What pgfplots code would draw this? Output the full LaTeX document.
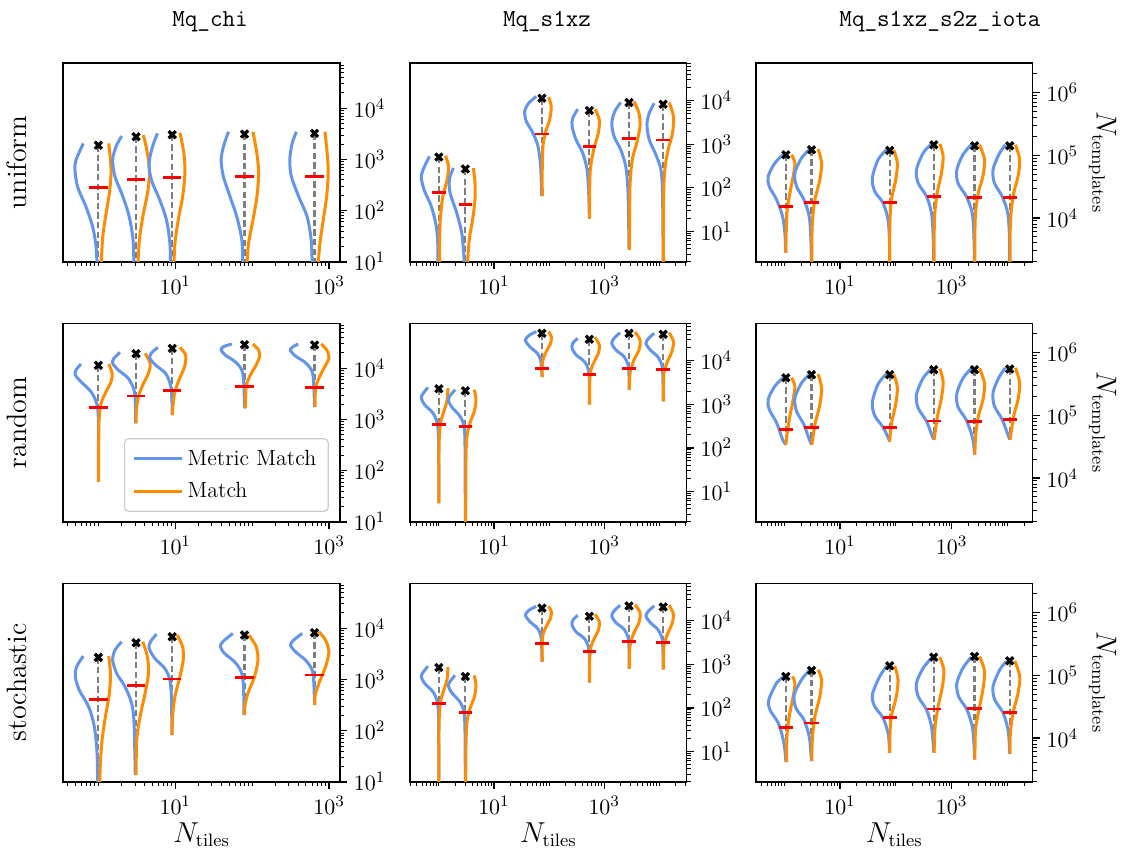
\documentclass[border=0pt]{standalone}
\usepackage{pgfplots}
\pgfplotsset{compat=1.18}
\definecolor{mblue}{HTML}{6495ED}
\definecolor{morange}{HTML}{FF8C00}
\definecolor{dgray}{HTML}{7F7F7F}

% axes are in log10 units: x = log10(N_tiles), y = log10(N_templates)
\pgfplotsset{
  panel/.style={
    scale only axis, width=138.3pt, height=99.25pt, anchor=north west,
    axis line style={line width=0.8pt},
    tick align=outside, xtick pos=bottom, ytick pos=right, yticklabel pos=right,
    major tick length=3.5pt, minor tick length=2pt,
    major tick style={line width=0.7pt, black},
    minor tick style={line width=0.5pt, black},
    xtick={-1,1,3,5},
    minor xtick={-0.699,-0.523,-0.398,-0.301,-0.222,-0.155,-0.097,-0.046,0,0.301,0.477,0.602,0.699,0.778,0.845,0.903,0.954,1.301,1.477,1.602,1.699,1.778,1.845,1.903,1.954,2,2.301,2.477,2.602,2.699,2.778,2.845,2.903,2.954,3.301,3.477,3.602,3.699,3.778,3.845,3.903,3.954,4,4.301,4.477,4.602,4.699,4.778,4.845,4.903,4.954},
    minor ytick={0.301,0.477,0.602,0.699,0.778,0.845,0.903,0.954,1.301,1.477,1.602,1.699,1.778,1.845,1.903,1.954,2.301,2.477,2.602,2.699,2.778,2.845,2.903,2.954,3.301,3.477,3.602,3.699,3.778,3.845,3.903,3.954,4.301,4.477,4.602,4.699,4.778,4.845,4.903,4.954,5.301,5.477,5.602,5.699,5.778,5.845,5.903,5.954,6.301,6.477,6.602,6.699,6.778,6.845,6.903,6.954},
    xticklabel={$10^{\pgfmathprintnumber{\tick}}$},
    yticklabel={$10^{\pgfmathprintnumber{\tick}}$},
    tick label style={font=\fontsize{11}{13}\selectfont},
  },
  c1/.style={panel, xmin=-0.456, xmax=3.14, ymin=1, ymax=4.88, ytick={1,2,3,4}},
  c2/.style={panel, xmin=-0.524, xmax=4.495, ymin=0.30, ymax=4.86, ytick={1,2,3,4}},
  c3/.style={panel, xmin=-0.505, xmax=4.45, ymin=3.30, ymax=6.47, ytick={4,5,6}},
  mm/.style={color=mblue, line width=1.5pt, smooth, mark=none},
  ma/.style={color=morange, line width=1.5pt, smooth, mark=none},
  dsh/.style={color=dgray, line width=1.1pt, dash pattern=on 3.2pt off 1.6pt, mark=none},
  rd/.style={only marks, mark=-, mark size=#1, color=red, mark options={line width=1.4pt}},
  xm/.style={only marks, mark=x, mark size=2.5pt, color=black, mark options={line width=1.6pt}},
}

\begin{document}
\begin{tikzpicture}
\path[use as bounding box] (-31.65pt,31.65pt) rectangle (529.85pt,-393.35pt);

% ---------------- uniform / Mq_chi
\begin{axis}[c1, at={(0pt,0pt)}]
\addplot[dsh] coordinates {(0,3.28) (0,0.9)};
\addplot[dsh] coordinates {(0.49,3.445) (0.49,0.9)};
\addplot[dsh] coordinates {(0.96,3.484) (0.96,0.9)};
\addplot[dsh] coordinates {(1.90,3.497) (1.90,0.9)};
\addplot[dsh] coordinates {(2.81,3.51) (2.81,0.9)};
\addplot[mm] coordinates {(-0.196,3.314) (-0.291,2.988) (-0.304,2.792) (-0.27,2.466) (-0.161,2.075) (-0.074,1.683) (-0.03,1.292) (-0.017,0.9)};
\addplot[ma] coordinates {(0.135,3.314) (0.157,2.988) (0.165,2.727) (0.143,2.336) (0.1,1.944) (0.057,1.488) (0.035,0.9)};
\addplot[mm] coordinates {(0.303,3.458) (0.229,3.249) (0.186,2.988) (0.216,2.662) (0.303,2.336) (0.39,1.944) (0.447,1.488) (0.464,0.9)};
\addplot[ma] coordinates {(0.586,3.477) (0.638,3.118) (0.664,2.727) (0.638,2.336) (0.577,1.879) (0.533,1.423) (0.512,0.9)};
\addplot[mm] coordinates {(0.769,3.51) (0.703,3.249) (0.66,2.923) (0.69,2.597) (0.799,2.205) (0.886,1.814) (0.93,1.357) (0.938,0.9)};
\addplot[ma] coordinates {(1.06,3.523) (1.112,3.118) (1.125,2.727) (1.095,2.27) (1.038,1.814) (0.995,1.357) (0.982,0.9)};
\addplot[mm] coordinates {(1.691,3.542) (1.626,3.249) (1.596,2.988) (1.626,2.662) (1.713,2.27) (1.8,1.879) (1.865,1.423) (1.878,0.9)};
\addplot[ma] coordinates {(2.009,3.542) (2.061,3.118) (2.083,2.727) (2.061,2.27) (2.009,1.814) (1.952,1.357) (1.93,0.9)};
\addplot[mm] coordinates {(2.575,3.542) (2.519,3.314) (2.488,2.988) (2.51,2.662) (2.606,2.27) (2.714,1.879) (2.767,1.423) (2.78,0.9)};
\addplot[ma] coordinates {(2.945,3.542) (2.975,3.118) (2.988,2.727) (2.967,2.27) (2.923,1.814) (2.88,1.357) (2.853,0.9)};
\addplot[rd=4.6pt] coordinates {(0,2.46) (0.49,2.616) (0.96,2.649) (1.90,2.662) (2.81,2.675)};
\addplot[xm] coordinates {(0,3.28) (0.49,3.445) (0.96,3.484) (1.90,3.497) (2.81,3.51)};
\end{axis}

% ---------------- uniform / Mq_s1xz
\begin{axis}[c2, at={(173.35pt,0pt)}]
\addplot[dsh] coordinates {(0,2.708) (0,0.2)};
\addplot[dsh] coordinates {(0.48,2.433) (0.48,0.2)};
\addplot[dsh] coordinates {(1.87,4.058) (1.87,1.808)};
\addplot[dsh] coordinates {(2.73,3.776) (2.73,1.289)};
\addplot[dsh] coordinates {(3.45,3.959) (3.45,0.572)};
\addplot[dsh] coordinates {(4.07,3.92) (4.07,0.2)};
\addplot[mm] coordinates {(-0.169,2.723) (-0.259,2.494) (-0.319,2.265) (-0.271,1.96) (-0.139,1.579) (-0.048,1.121) (-0.018,0.664) (-0.018,0.2)};
\addplot[ma] coordinates {(0.12,2.738) (0.175,2.494) (0.151,2.189) (0.072,1.808) (0.03,1.35) (0.012,0.816) (0.012,0.2)};
\addplot[mm] coordinates {(0.263,2.456) (0.191,2.189) (0.203,1.884) (0.323,1.426) (0.414,0.969) (0.45,0.511) (0.462,0.2)};
\addplot[ma] coordinates {(0.625,2.456) (0.655,2.113) (0.655,1.731) (0.613,1.274) (0.552,0.816) (0.516,0.2)};
\addplot[mm] coordinates {(1.768,4.096) (1.629,3.943) (1.557,3.753) (1.587,3.524) (1.707,3.257) (1.798,2.952) (1.846,2.494) (1.864,1.808)};
\addplot[ma] coordinates {(1.99,4.08) (2.039,3.867) (2.009,3.562) (1.93,3.257) (1.888,2.952) (1.876,2.494) (1.876,1.808)};
\addplot[mm] coordinates {(2.519,3.806) (2.429,3.6) (2.417,3.409) (2.489,3.104) (2.61,2.799) (2.688,2.418) (2.718,1.884) (2.73,1.289)};
\addplot[ma] coordinates {(2.832,3.806) (2.911,3.562) (2.893,3.257) (2.808,2.876) (2.748,2.418) (2.736,1.884) (2.736,1.289)};
\addplot[mm] coordinates {(3.299,3.959) (3.191,3.753) (3.137,3.486) (3.179,3.18) (3.299,2.876) (3.39,2.494) (3.432,1.884) (3.45,0.572)};
\addplot[ma] coordinates {(3.54,3.982) (3.631,3.715) (3.649,3.409) (3.589,3.028) (3.51,2.647) (3.468,2.036) (3.456,0.572)};
\addplot[mm] coordinates {(3.907,3.943) (3.817,3.715) (3.775,3.448) (3.817,3.104) (3.937,2.761) (4.028,2.418) (4.058,1.884) (4.07,0.2)};
\addplot[ma] coordinates {(4.178,3.959) (4.257,3.638) (4.239,3.257) (4.16,2.876) (4.1,2.418) (4.076,1.731) (4.076,0.2)};
\addplot[rd=3.4pt] coordinates {(0,1.884) (0.48,1.609) (1.87,3.234) (2.73,2.952) (3.45,3.127) (4.07,3.097)};
\addplot[xm] coordinates {(0,2.708) (0.48,2.433) (1.87,4.058) (2.73,3.776) (3.45,3.959) (4.07,3.92)};
\end{axis}

% ---------------- uniform / Mq_s1xz_s2z_iota
\begin{axis}[c3, at={(346.35pt,0pt)}]
\addplot[dsh] coordinates {(0.03,5.01) (0.03,3.444)};
\addplot[dsh] coordinates {(0.49,5.09) (0.49,3.2)};
\addplot[dsh] coordinates {(1.89,5.079) (1.89,3.2)};
\addplot[dsh] coordinates {(2.68,5.169) (2.68,3.2)};
\addplot[dsh] coordinates {(3.41,5.153) (3.41,3.2)};
\addplot[dsh] coordinates {(4.04,5.153) (4.04,3.2)};
\addplot[mm] coordinates {(-0.018,5.01) (-0.167,4.877) (-0.287,4.665) (-0.269,4.505) (-0.137,4.293) (-0.03,4.028) (0.012,3.762) (0.03,3.444)};
\addplot[ma] coordinates {(0.132,5.01) (0.191,4.877) (0.161,4.665) (0.102,4.399) (0.054,4.134) (0.036,3.762) (0.03,3.444)};
\addplot[mm] coordinates {(0.46,5.1) (0.311,4.957) (0.191,4.718) (0.221,4.505) (0.353,4.293) (0.448,4.028) (0.478,3.656) (0.49,3.2)};
\addplot[ma] coordinates {(0.609,5.1) (0.669,4.877) (0.639,4.612) (0.55,4.293) (0.508,3.975) (0.496,3.656) (0.496,3.2)};
\addplot[mm] coordinates {(1.83,5.089) (1.681,4.93) (1.579,4.638) (1.621,4.426) (1.771,4.24) (1.86,3.975) (1.884,3.656) (1.89,3.2)};
\addplot[ma] coordinates {(1.962,5.089) (2.027,4.877) (1.998,4.612) (1.92,4.293) (1.896,3.975) (1.89,3.656) (1.89,3.2)};
\addplot[mm] coordinates {(2.638,5.185) (2.489,5.036) (2.369,4.771) (2.399,4.559) (2.549,4.346) (2.638,4.081) (2.668,3.709) (2.68,3.2)};
\addplot[ma] coordinates {(2.788,5.185) (2.847,4.983) (2.817,4.718) (2.74,4.399) (2.698,4.081) (2.686,3.709) (2.686,3.2)};
\addplot[mm] coordinates {(3.35,5.169) (3.201,5.01) (3.093,4.771) (3.111,4.559) (3.261,4.346) (3.368,4.081) (3.398,3.709) (3.41,3.2)};
\addplot[ma] coordinates {(3.5,5.169) (3.589,4.93) (3.559,4.665) (3.476,4.399) (3.428,4.081) (3.416,3.709) (3.416,3.2)};
\addplot[mm] coordinates {(3.962,5.169) (3.843,5.01) (3.741,4.771) (3.765,4.559) (3.903,4.346) (4.004,4.081) (4.034,3.709) (4.04,3.2)};
\addplot[ma] coordinates {(4.142,5.169) (4.219,4.93) (4.189,4.665) (4.112,4.399) (4.064,4.081) (4.046,3.709) (4.046,3.2)};
\addplot[rd=3.6pt] coordinates {(0.03,4.187) (0.49,4.251) (1.89,4.251) (2.68,4.346) (3.41,4.33) (4.04,4.33)};
\addplot[xm] coordinates {(0.03,5.01) (0.49,5.09) (1.89,5.079) (2.68,5.169) (3.41,5.153) (4.04,5.153)};
\end{axis}

% ---------------- random / Mq_chi
\begin{axis}[c1, at={(0pt,-130pt)},
  legend style={at={(0.96,0.05)}, anchor=south east, font=\fontsize{11}{13}\selectfont,
    draw=black!20, line width=0.6pt, rounded corners=2pt, fill=white, fill opacity=0.8,
    text opacity=1, inner xsep=4pt, inner ysep=3.5pt, row sep=3pt},
  legend cell align=left,
  legend image code/.code={\draw[#1] (0pt,0pt) -- (24pt,0pt);}]
\addlegendimage{mm}\addlegendentry{Metric Match}
\addlegendimage{ma}\addlegendentry{Match}
\addplot[dsh] coordinates {(0,4.058) (0,1.781)};
\addplot[dsh] coordinates {(0.49,4.286) (0.49,2.923)};
\addplot[dsh] coordinates {(0.96,4.39) (0.96,3.086)};
\addplot[dsh] coordinates {(1.90,4.462) (1.90,3.216)};
\addplot[dsh] coordinates {(2.81,4.456) (2.81,3.249)};
\addplot[mm] coordinates {(-0.226,4.084) (-0.291,3.966) (-0.3,3.869) (-0.226,3.738) (-0.096,3.543) (-0.022,3.314) (0,2.988) (0,1.781)};
\addplot[ma] coordinates {(0.135,4.084) (0.178,3.901) (0.165,3.738) (0.1,3.543) (0.035,3.314) (0.009,2.988) (0.004,2.336) (0.004,1.781)};
\addplot[mm] coordinates {(0.281,4.312) (0.203,4.195) (0.186,4.097) (0.26,3.966) (0.39,3.803) (0.464,3.575) (0.481,3.314) (0.486,2.923)};
\addplot[ma] coordinates {(0.607,4.293) (0.673,4.097) (0.651,3.901) (0.577,3.673) (0.52,3.445) (0.494,3.184) (0.49,2.923)};
\addplot[mm] coordinates {(0.773,4.41) (0.686,4.293) (0.669,4.195) (0.743,4.064) (0.873,3.901) (0.938,3.673) (0.956,3.379) (0.96,3.086)};
\addplot[ma] coordinates {(1.06,4.41) (1.134,4.26) (1.121,4.032) (1.047,3.771) (0.99,3.51) (0.969,3.249) (0.964,3.086)};
\addplot[mm] coordinates {(1.735,4.475) (1.626,4.423) (1.596,4.358) (1.648,4.26) (1.778,4.13) (1.865,3.966) (1.891,3.706) (1.9,3.216)};
\addplot[ma] coordinates {(2.009,4.475) (2.083,4.358) (2.096,4.227) (2.039,4.032) (1.965,3.836) (1.922,3.64) (1.909,3.216)};
\addplot[mm] coordinates {(2.597,4.475) (2.519,4.41) (2.497,4.345) (2.562,4.24) (2.693,4.11) (2.78,3.934) (2.801,3.64) (2.81,3.249)};
\addplot[ma] coordinates {(2.897,4.475) (2.975,4.345) (2.997,4.195) (2.932,4.0) (2.867,3.803) (2.823,3.608) (2.819,3.249)};
\addplot[rd=4.6pt] coordinates {(0,3.229) (0.49,3.458) (0.96,3.569) (1.90,3.64) (2.81,3.621)};
\addplot[xm] coordinates {(0,4.058) (0.49,4.286) (0.96,4.39) (1.90,4.462) (2.81,4.456)};
\end{axis}

% ---------------- random / Mq_s1xz
\begin{axis}[c2, at={(173.35pt,-130pt)}]
\addplot[dsh] coordinates {(0,3.356) (0,0.725)};
\addplot[dsh] coordinates {(0.48,3.31) (0.48,0.2)};
\addplot[dsh] coordinates {(1.87,4.63) (1.87,3.623)};
\addplot[dsh] coordinates {(2.73,4.493) (2.73,2.99)};
\addplot[dsh] coordinates {(3.45,4.63) (3.45,3.333)};
\addplot[dsh] coordinates {(4.07,4.607) (4.07,3.066)};
\addplot[mm] coordinates {(-0.199,3.387) (-0.289,3.242) (-0.319,3.142) (-0.259,2.99) (-0.108,2.799) (-0.03,2.57) (-0.006,2.189) (0,0.74)};
\addplot[ma] coordinates {(0.163,3.371) (0.151,3.104) (0.09,2.837) (0.03,2.57) (0.006,2.189) (0,1.502) (0,0.725)};
\addplot[mm] coordinates {(0.293,3.333) (0.203,3.196) (0.173,3.089) (0.233,2.937) (0.384,2.723) (0.456,2.494) (0.474,2.036) (0.48,0.2)};
\addplot[ma] coordinates {(0.643,3.333) (0.673,3.104) (0.643,2.837) (0.564,2.57) (0.51,2.265) (0.492,1.731) (0.486,0.2)};
\addplot[mm] coordinates {(1.768,4.668) (1.647,4.592) (1.569,4.477) (1.647,4.325) (1.786,4.172) (1.846,4.02) (1.864,3.791) (1.87,3.638)};
\addplot[ma] coordinates {(1.99,4.668) (2.039,4.554) (2.027,4.401) (1.948,4.21) (1.888,4.02) (1.876,3.829) (1.876,3.623)};
\addplot[mm] coordinates {(2.519,4.515) (2.429,4.401) (2.417,4.287) (2.489,4.134) (2.64,3.982) (2.712,3.791) (2.73,3.562) (2.73,2.99)};
\addplot[ma] coordinates {(2.832,4.538) (2.911,4.363) (2.893,4.172) (2.82,3.982) (2.76,3.791) (2.736,3.486) (2.736,2.99)};
\addplot[mm] coordinates {(3.287,4.645) (3.179,4.515) (3.137,4.401) (3.209,4.249) (3.36,4.096) (3.432,3.905) (3.45,3.638) (3.45,3.333)};
\addplot[ma] coordinates {(3.558,4.66) (3.649,4.477) (3.631,4.249) (3.54,4.02) (3.48,3.791) (3.456,3.562) (3.456,3.333)};
\addplot[mm] coordinates {(3.907,4.63) (3.805,4.515) (3.757,4.401) (3.835,4.249) (3.968,4.096) (4.046,3.905) (4.064,3.638) (4.07,3.066)};
\addplot[ma] coordinates {(4.178,4.645) (4.257,4.439) (4.227,4.21) (4.148,3.982) (4.088,3.753) (4.076,3.486) (4.076,3.066)};
\addplot[rd=3.4pt] coordinates {(0,2.532) (0.48,2.486) (1.87,3.814) (2.73,3.676) (3.45,3.814) (4.07,3.791)};
\addplot[xm] coordinates {(0,3.356) (0.48,3.31) (1.87,4.63) (2.73,4.493) (3.45,4.63) (4.07,4.607)};
\end{axis}

% ---------------- random / Mq_s1xz_s2z_iota
\begin{axis}[c3, at={(346.35pt,-130pt)}]
\addplot[dsh] coordinates {(0.03,5.6) (0.03,4.53)};
\addplot[dsh] coordinates {(0.49,5.65) (0.49,4.53)};
\addplot[dsh] coordinates {(1.89,5.65) (1.89,4.58)};
\addplot[dsh] coordinates {(2.68,5.73) (2.68,4.61)};
\addplot[dsh] coordinates {(3.41,5.73) (3.41,4.37)};
\addplot[dsh] coordinates {(4.04,5.74) (4.04,4.61)};
\addplot[mm] coordinates {(-0.018,5.6) (-0.167,5.467) (-0.287,5.255) (-0.269,5.095) (-0.137,4.883) (-0.03,4.618) (0.03,4.53)};
\addplot[ma] coordinates {(0.132,5.6) (0.191,5.467) (0.161,5.255) (0.102,4.989) (0.054,4.724) (0.03,4.53)};
\addplot[mm] coordinates {(0.46,5.66) (0.311,5.517) (0.191,5.278) (0.221,5.065) (0.353,4.853) (0.448,4.62) (0.49,4.53)};
\addplot[ma] coordinates {(0.609,5.66) (0.669,5.437) (0.639,5.172) (0.55,4.853) (0.496,4.53)};
\addplot[mm] coordinates {(1.83,5.659) (1.681,5.5) (1.579,5.208) (1.621,4.996) (1.771,4.81) (1.86,4.65) (1.89,4.58)};
\addplot[ma] coordinates {(1.962,5.659) (2.027,5.447) (1.998,5.182) (1.92,4.863) (1.89,4.58)};
\addplot[mm] coordinates {(2.638,5.745) (2.489,5.596) (2.369,5.331) (2.399,5.119) (2.549,4.906) (2.638,4.7) (2.68,4.61)};
\addplot[ma] coordinates {(2.788,5.745) (2.847,5.543) (2.817,5.278) (2.74,4.959) (2.686,4.61)};
\addplot[mm] coordinates {(3.35,5.749) (3.201,5.59) (3.093,5.351) (3.111,5.139) (3.261,4.926) (3.368,4.661) (3.398,4.5) (3.41,4.37)};
\addplot[ma] coordinates {(3.5,5.749) (3.589,5.51) (3.559,5.245) (3.476,4.979) (3.428,4.661) (3.416,4.37)};
\addplot[mm] coordinates {(3.962,5.759) (3.843,5.6) (3.741,5.361) (3.765,5.149) (3.903,4.936) (4.004,4.7) (4.04,4.61)};
\addplot[ma] coordinates {(4.142,5.759) (4.219,5.52) (4.189,5.255) (4.112,4.989) (4.046,4.61)};
\addplot[rd=3.6pt] coordinates {(0.03,4.77) (0.49,4.80) (1.89,4.80) (2.68,4.91) (3.41,4.90) (4.04,4.93)};
\addplot[xm] coordinates {(0.03,5.6) (0.49,5.65) (1.89,5.65) (2.68,5.73) (3.41,5.73) (4.04,5.74)};
\end{axis}

% ---------------- stochastic / Mq_chi
\begin{axis}[c1, at={(0pt,-260pt)}]
\addplot[dsh] coordinates {(0,3.432) (0,0.9)};
\addplot[dsh] coordinates {(0.49,3.719) (0.49,1.129)};
\addplot[dsh] coordinates {(0.96,3.836) (0.96,1.912)};
\addplot[dsh] coordinates {(1.90,3.869) (1.90,2.303)};
\addplot[dsh] coordinates {(2.81,3.914) (2.81,2.499)};
\addplot[mm] coordinates {(-0.196,3.458) (-0.283,3.249) (-0.3,3.053) (-0.248,2.792) (-0.126,2.466) (-0.052,2.075) (-0.017,1.553) (-0.009,0.9)};
\addplot[ma] coordinates {(0.135,3.458) (0.157,3.118) (0.143,2.727) (0.091,2.27) (0.048,1.814) (0.026,1.357) (0.017,0.9)};
\addplot[mm] coordinates {(0.303,3.738) (0.216,3.575) (0.186,3.379) (0.238,3.118) (0.347,2.858) (0.433,2.531) (0.464,2.14) (0.48,1.129)};
\addplot[ma] coordinates {(0.577,3.738) (0.638,3.445) (0.651,3.118) (0.607,2.727) (0.542,2.27) (0.499,1.814) (0.49,1.129)};
\addplot[mm] coordinates {(0.756,3.888) (0.677,3.738) (0.66,3.608) (0.734,3.412) (0.864,3.216) (0.93,2.988) (0.951,2.597) (0.955,1.912)};
\addplot[ma] coordinates {(1.025,3.869) (1.095,3.64) (1.103,3.379) (1.06,3.053) (0.995,2.662) (0.964,2.27) (0.96,1.912)};
\addplot[mm] coordinates {(1.748,3.901) (1.617,3.738) (1.587,3.64) (1.639,3.51) (1.77,3.347) (1.857,3.151) (1.887,2.858) (1.891,2.303)};
\addplot[ma] coordinates {(1.957,3.869) (2.052,3.64) (2.074,3.379) (2.03,3.053) (1.943,2.727) (1.904,2.466) (1.9,2.303)};
\addplot[mm] coordinates {(2.649,3.901) (2.54,3.771) (2.497,3.673) (2.562,3.542) (2.693,3.379) (2.78,3.184) (2.801,2.923) (2.81,2.531)};
\addplot[ma] coordinates {(2.867,3.934) (2.953,3.771) (2.997,3.542) (2.953,3.249) (2.867,2.923) (2.819,2.695) (2.814,2.499)};
\addplot[rd=4.6pt] coordinates {(0,2.61) (0.49,2.884) (0.96,3.008) (1.90,3.034) (2.81,3.086)};
\addplot[xm] coordinates {(0,3.432) (0.49,3.719) (0.96,3.836) (1.90,3.869) (2.81,3.914)};
\end{axis}

% ---------------- stochastic / Mq_s1xz
\begin{axis}[c2, at={(173.35pt,-260pt)}]
\addplot[dsh] coordinates {(0,2.926) (0,0.2)};
\addplot[dsh] coordinates {(0.48,2.72) (0.48,0.2)};
\addplot[dsh] coordinates {(1.87,4.29) (1.87,3.06)};
\addplot[dsh] coordinates {(2.73,4.103) (2.73,2.58)};
\addplot[dsh] coordinates {(3.45,4.34) (3.45,2.9)};
\addplot[dsh] coordinates {(4.07,4.317) (4.07,2.88)};
\addplot[mm] coordinates {(-0.199,2.957) (-0.289,2.812) (-0.319,2.712) (-0.259,2.56) (-0.108,2.369) (-0.03,2.14) (-0.006,1.759) (0,0.2)};
\addplot[ma] coordinates {(0.163,2.941) (0.151,2.674) (0.09,2.407) (0.03,2.14) (0.006,1.759) (0,1.072) (0,0.2)};
\addplot[mm] coordinates {(0.293,2.743) (0.203,2.606) (0.173,2.499) (0.233,2.347) (0.384,2.133) (0.456,1.904) (0.474,1.446) (0.48,0.2)};
\addplot[ma] coordinates {(0.643,2.743) (0.673,2.514) (0.643,2.247) (0.564,1.98) (0.51,1.675) (0.492,1.141) (0.486,0.2)};
\addplot[mm] coordinates {(1.768,4.328) (1.647,4.252) (1.569,4.137) (1.647,3.985) (1.786,3.832) (1.846,3.68) (1.864,3.451) (1.87,3.06)};
\addplot[ma] coordinates {(1.99,4.328) (2.039,4.214) (2.027,4.061) (1.948,3.87) (1.888,3.68) (1.876,3.489) (1.876,3.06)};
\addplot[mm] coordinates {(2.519,4.125) (2.429,4.011) (2.417,3.897) (2.489,3.744) (2.64,3.592) (2.712,3.401) (2.73,3.172) (2.73,2.58)};
\addplot[ma] coordinates {(2.832,4.148) (2.911,3.973) (2.893,3.782) (2.82,3.592) (2.76,3.401) (2.736,3.096) (2.736,2.58)};
\addplot[mm] coordinates {(3.287,4.355) (3.179,4.225) (3.137,4.111) (3.209,3.959) (3.36,3.806) (3.432,3.615) (3.45,3.348) (3.45,2.9)};
\addplot[ma] coordinates {(3.558,4.37) (3.649,4.187) (3.631,3.959) (3.54,3.73) (3.48,3.501) (3.456,3.272) (3.456,2.9)};
\addplot[mm] coordinates {(3.907,4.34) (3.805,4.225) (3.757,4.111) (3.835,3.959) (3.968,3.806) (4.046,3.615) (4.064,3.348) (4.07,2.88)};
\addplot[ma] coordinates {(4.178,4.355) (4.257,4.149) (4.227,3.92) (4.148,3.692) (4.088,3.463) (4.076,3.196) (4.076,2.88)};
\addplot[rd=3.4pt] coordinates {(0,2.102) (0.48,1.896) (1.87,3.474) (2.73,3.286) (3.45,3.524) (4.07,3.501)};
\addplot[xm] coordinates {(0,2.926) (0.48,2.72) (1.87,4.29) (2.73,4.103) (3.45,4.34) (4.07,4.317)};
\end{axis}

% ---------------- stochastic / Mq_s1xz_s2z_iota
\begin{axis}[c3, at={(346.35pt,-260pt)}]
\addplot[dsh] coordinates {(0.03,4.983) (0.03,3.614)};
\addplot[dsh] coordinates {(0.49,5.079) (0.49,3.63)};
\addplot[dsh] coordinates {(1.89,5.153) (1.89,3.762)};
\addplot[dsh] coordinates {(2.68,5.291) (2.68,3.762)};
\addplot[dsh] coordinates {(3.41,5.302) (3.41,3.656)};
\addplot[dsh] coordinates {(4.04,5.233) (4.04,3.752)};
\addplot[mm] coordinates {(-0.018,4.973) (-0.137,4.877) (-0.275,4.612) (-0.257,4.452) (-0.107,4.24) (-0.018,3.975) (0.018,3.762) (0.03,3.614)};
\addplot[ma] coordinates {(0.149,4.983) (0.191,4.877) (0.161,4.665) (0.09,4.346) (0.054,4.081) (0.042,3.815) (0.042,3.614)};
\addplot[mm] coordinates {(0.448,5.079) (0.311,4.93) (0.179,4.691) (0.209,4.479) (0.353,4.293) (0.448,4.028) (0.478,3.762) (0.49,3.63)};
\addplot[ma] coordinates {(0.609,5.089) (0.669,4.93) (0.639,4.665) (0.55,4.346) (0.508,4.028) (0.496,3.762) (0.496,3.63)};
\addplot[mm] coordinates {(1.842,5.153) (1.711,4.983) (1.579,4.691) (1.621,4.505) (1.771,4.32) (1.86,4.081) (1.884,3.869) (1.89,3.762)};
\addplot[ma] coordinates {(1.98,5.153) (2.039,4.93) (2.009,4.665) (1.92,4.346) (1.896,4.081) (1.89,3.762)};
\addplot[mm] coordinates {(2.638,5.275) (2.489,5.116) (2.369,4.877) (2.399,4.665) (2.549,4.452) (2.638,4.187) (2.668,3.922) (2.68,3.762)};
\addplot[ma] coordinates {(2.788,5.291) (2.859,5.089) (2.835,4.824) (2.758,4.505) (2.704,4.187) (2.686,3.762)};
\addplot[mm] coordinates {(3.35,5.291) (3.201,5.116) (3.093,4.877) (3.123,4.665) (3.273,4.452) (3.368,4.187) (3.398,3.922) (3.41,3.656)};
\addplot[ma] coordinates {(3.5,5.302) (3.589,5.063) (3.559,4.771) (3.488,4.452) (3.428,4.134) (3.416,3.656)};
\addplot[mm] coordinates {(3.98,5.222) (3.861,5.089) (3.741,4.824) (3.771,4.612) (3.921,4.4) (4.01,4.134) (4.034,3.869) (4.04,3.752)};
\addplot[ma] coordinates {(4.13,5.233) (4.219,4.983) (4.189,4.718) (4.1,4.4) (4.052,4.081) (4.046,3.752)};
\addplot[rd=3.6pt] coordinates {(0.03,4.171) (0.49,4.24) (1.89,4.33) (2.68,4.463) (3.41,4.474) (4.04,4.41)};
\addplot[xm] coordinates {(0.03,4.983) (0.49,5.079) (1.89,5.153) (2.68,5.291) (3.41,5.302) (4.04,5.233)};
\end{axis}

% column titles, row labels, axis labels
\node[anchor=base, font=\fontsize{12.2}{14}\ttfamily] at (73.35pt,18.2pt) {Mq\_chi};
\node[anchor=base, font=\fontsize{12.2}{14}\ttfamily] at (241.85pt,18.2pt) {Mq\_s1xz};
\node[anchor=base, font=\fontsize{12.2}{14}\ttfamily] at (438.35pt,18.2pt) {Mq\_s1xz\_s2z\_iota};
\node[rotate=90, anchor=base, font=\fontsize{14}{16}\selectfont] at (-18.4pt,-49.6pt) {uniform};
\node[rotate=90, anchor=base, font=\fontsize{14}{16}\selectfont] at (-18.4pt,-179.6pt) {random};
\node[rotate=90, anchor=base, font=\fontsize{14}{16}\selectfont] at (-18.4pt,-309.6pt) {stochastic};
\node[anchor=base, font=\fontsize{13.5}{15}\selectfont] at (69.15pt,-389.5pt) {$N_{\mathrm{tiles}}$};
\node[anchor=base, font=\fontsize{13.5}{15}\selectfont] at (242.5pt,-389.5pt) {$N_{\mathrm{tiles}}$};
\node[anchor=base, font=\fontsize{13.5}{15}\selectfont] at (415.5pt,-389.5pt) {$N_{\mathrm{tiles}}$};
\node[rotate=-90, anchor=base, font=\fontsize{13.5}{15}\selectfont] at (516.7pt,-49.6pt) {$N_{\mathrm{templates}}$};
\node[rotate=-90, anchor=base, font=\fontsize{13.5}{15}\selectfont] at (516.7pt,-179.6pt) {$N_{\mathrm{templates}}$};
\node[rotate=-90, anchor=base, font=\fontsize{13.5}{15}\selectfont] at (516.7pt,-309.6pt) {$N_{\mathrm{templates}}$};
\end{tikzpicture}
\end{document}
